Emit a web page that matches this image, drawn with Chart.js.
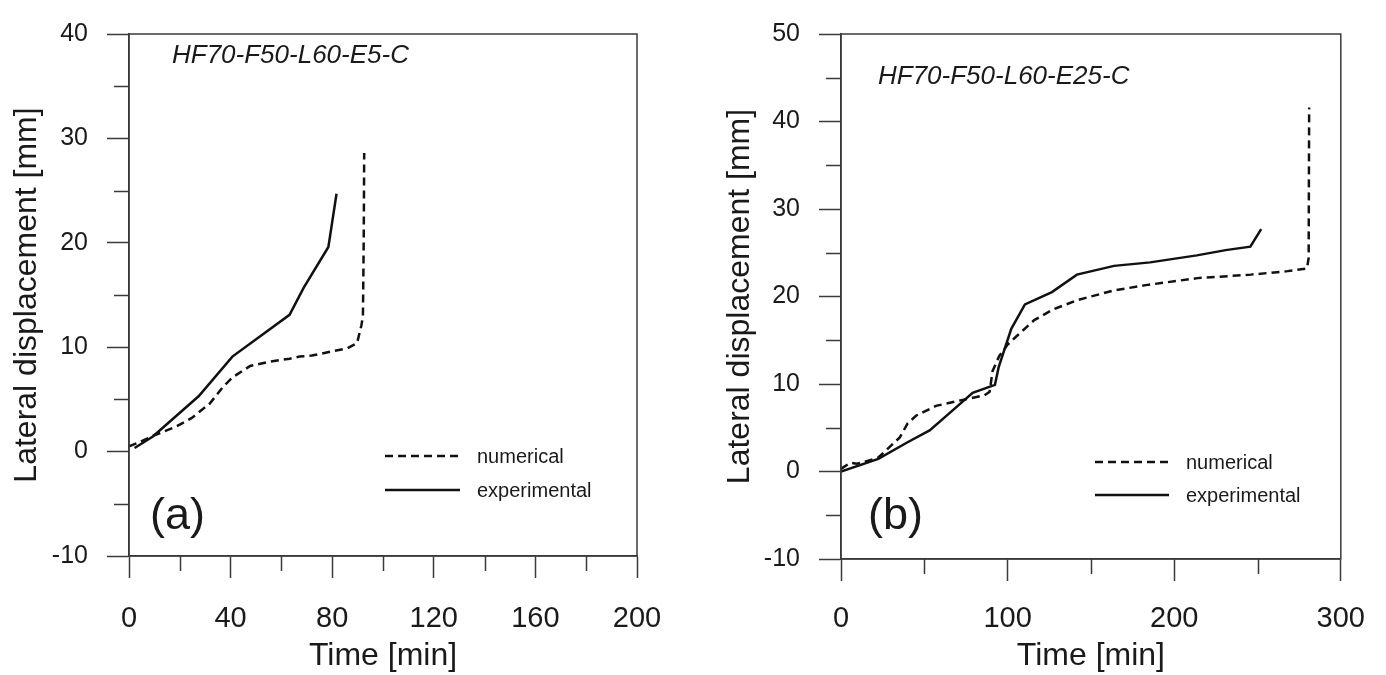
<!DOCTYPE html>
<html lang="en">
<head>
<meta charset="UTF-8">
<title>Lateral displacement vs time</title>
<script src="https://cdn.jsdelivr.net/npm/chart.js"></script>
<style>
  body { margin: 0; background: #fff; }
  .panel { position: absolute; top: 0; width: 693px; height: 675px; }
  #panelA { left: 0; }
  #panelB { left: 693px; }
</style>
</head>
<body>
<div class="panel" id="panelA"><canvas id="chartA" width="693" height="675"></canvas></div>
<div class="panel" id="panelB"><canvas id="chartB" width="693" height="675"></canvas></div>

<script>
// (a) HF70-F50-L60-E5-C
const numTimeA = [0, 4, 9.4, 18.6, 24.6, 31.8, 37, 40.7, 47.7, 55, 63.2, 67.2, 72, 80, 86, 89.8, 91.5, 92.1, 92.4, 92.6];
const numDispA = [0.5, 0.9, 1.5, 2.4, 3.2, 4.6, 6.2, 7.1, 8.2, 8.6, 8.9, 9.1, 9.2, 9.6, 9.9, 10.4, 12.1, 13.0, 20, 28.6];
const expTimeA = [2.2, 9.4, 27.4, 40.7, 63.2, 68.8, 78.5, 81.7];
const expDispA = [0.35, 1.45, 5.3, 9.1, 13.1, 15.7, 19.6, 24.7];

// (b) HF70-F50-L60-E25-C
const numTimeB = [0, 5.5, 9.5, 14, 22.4, 28.6, 35.3, 40, 45.2, 57, 71, 86, 89.2, 91, 95, 100, 105, 116, 127, 142, 164, 183, 214, 246, 268, 279.7, 280.7, 281];
const numDispB = [0.3, 1.0, 0.9, 1.1, 1.6, 2.7, 3.9, 5.5, 6.4, 7.5, 8.1, 8.7, 9.1, 11.5, 13.2, 14.5, 15.4, 17.3, 18.5, 19.6, 20.7, 21.3, 22.1, 22.5, 22.9, 23.2, 24.4, 41.6];
const expTimeB = [0, 22.4, 40.5, 53.2, 66.5, 79, 92.4, 94.6, 102.2, 110.4, 126.6, 141.6, 163.9, 185.5, 213.6, 230.9, 245.7, 252.2];
const expDispB = [0, 1.45, 3.4, 4.7, 6.9, 9.0, 9.9, 11.9, 16.3, 19.1, 20.5, 22.5, 23.5, 23.9, 24.7, 25.3, 25.7, 27.7];

const seriesNames = ['numerical', 'experimental'];

const FONT = '"Liberation Sans", Arial, sans-serif';
const INK = '#1a1a1a';
const AXIS = '#3a3a3a';

function pts(xs, ys) {
  return xs.map((x, i) => ({ x: x, y: ys[i] }));
}

// minor ticks, frame, specimen name, panel tag and legend
const decoPlugin = {
  id: 'deco',
  afterDraw(chart, args, opts) {
    const ctx = chart.ctx;
    const a = chart.chartArea;
    ctx.save();
    ctx.strokeStyle = AXIS;
    ctx.lineWidth = 1.5;
    ctx.strokeRect(a.left, a.top, a.right - a.left, a.bottom - a.top);

    // short minor ticks
    const xs = chart.scales.x, ys = chart.scales.y;
    ctx.beginPath();
    xs.ticks.forEach(t => {
      if (t.label !== '') return;
      const px = Math.round(xs.getPixelForValue(t.value)) + 0.5;
      ctx.moveTo(px, a.bottom);
      ctx.lineTo(px, a.bottom + 15);
    });
    ys.ticks.forEach(t => {
      if (t.label !== '') return;
      const py = Math.round(ys.getPixelForValue(t.value)) + 0.5;
      ctx.moveTo(a.left, py);
      ctx.lineTo(a.left - 15, py);
    });
    ctx.stroke();

    ctx.fillStyle = INK;
    ctx.textBaseline = 'middle';
    ctx.font = 'italic 26px ' + FONT;
    ctx.fillText(opts.name, opts.nameX, opts.nameY);

    ctx.textBaseline = 'alphabetic';
    ctx.font = '45px ' + FONT;
    ctx.fillText(opts.tag, opts.tagX, opts.tagY);

    // legend
    ctx.font = '20px ' + FONT;
    ctx.textBaseline = 'middle';
    chart.data.datasets.forEach((ds, i) => {
      const y = opts.legendY[i];
      ctx.beginPath();
      ctx.strokeStyle = ds.borderColor;
      ctx.lineWidth = ds.borderWidth;
      ctx.setLineDash(ds.borderDash || []);
      ctx.moveTo(opts.legendX0, y);
      ctx.lineTo(opts.legendX1, y);
      ctx.stroke();
      ctx.setLineDash([]);
      ctx.fillText(ds.label, opts.legendTextX, y + 1);
    });
    ctx.restore();
  }
};

function makeChart(id, cfg) {
  return new Chart(document.getElementById(id), {
    type: 'line',
    data: {
      datasets: [
        {
          label: seriesNames[0],
          data: pts(cfg.numT, cfg.numD),
          borderColor: '#111',
          borderWidth: 2.5,
          borderDash: [8, 5],
          pointRadius: 0,
          tension: 0
        },
        {
          label: seriesNames[1],
          data: pts(cfg.expT, cfg.expD),
          borderColor: '#111',
          borderWidth: 2.5,
          pointRadius: 0,
          tension: 0
        }
      ]
    },
    options: {
      responsive: false,
      animation: false,
      layout: { padding: { left: 0, top: cfg.padTop, right: cfg.padRight, bottom: 0 } },
      plugins: {
        legend: { display: false },
        tooltip: { enabled: false },
        deco: cfg.deco
      },
      scales: {
        x: {
          type: 'linear',
          min: cfg.xMin, max: cfg.xMax,
          afterFit(s) { s.height = cfg.xAxisHeight; },
          border: { display: true, color: AXIS, width: 1.5 },
          grid: {
            drawOnChartArea: false, drawTicks: true, tickLength: 22, tickWidth: 1.5,
            tickColor: c => (c.tick && c.tick.value % cfg.xLabelStep === 0) ? AXIS : 'rgba(0,0,0,0)'
          },
          ticks: {
            stepSize: cfg.xStep, autoSkip: false, maxRotation: 0, padding: cfg.xLabelPad,
            color: INK, font: { family: FONT, size: 29 },
            callback: v => (v % cfg.xLabelStep === 0 ? String(v) : '')
          },
          title: {
            display: true, text: 'Time [min]', color: INK,
            font: { family: FONT, size: 32 }, padding: { top: 0, bottom: 0 }
          }
        },
        y: {
          type: 'linear',
          min: cfg.yMin, max: cfg.yMax,
          afterFit(s) { s.width = cfg.yAxisWidth; },
          border: { display: true, color: AXIS, width: 1.5 },
          grid: {
            drawOnChartArea: false, drawTicks: true, tickLength: 22, tickWidth: 1.5,
            tickColor: c => (c.tick && c.tick.value % 10 === 0) ? AXIS : 'rgba(0,0,0,0)'
          },
          ticks: {
            stepSize: 5, autoSkip: false, padding: 19,
            color: INK, font: { family: FONT, size: 25 },
            callback: v => (v % 10 === 0 ? String(v) : '')
          },
          title: {
            display: true, text: 'Lateral displacement [mm]', color: INK,
            font: { family: FONT, size: 32 }, padding: { top: cfg.yTitlePad, bottom: 0 }
          }
        }
      }
    },
    plugins: [decoPlugin]
  });
}

makeChart('chartA', {
  numT: numTimeA, numD: numDispA, expT: expTimeA, expD: expDispA,
  xMin: 0, xMax: 200, xStep: 20, xLabelStep: 40,
  yMin: -10, yMax: 40,
  padTop: 22, padRight: 56, yAxisWidth: 129, xAxisHeight: 119, yTitlePad: 8, xLabelPad: 24,
  deco: {
    name: 'HF70-F50-L60-E5-C', nameX: 172, nameY: 56,
    tag: '(a)', tagX: 150, tagY: 529,
    legendX0: 385, legendX1: 460, legendTextX: 477, legendY: [456, 490]
  }
});

makeChart('chartB', {
  numT: numTimeB, numD: numDispB, expT: expTimeB, expD: expDispB,
  xMin: 0, xMax: 300, xStep: 50, xLabelStep: 100,
  yMin: -10, yMax: 50,
  padTop: 33.5, padRight: 41, yAxisWidth: 148, xAxisHeight: 116, yTitlePad: 28, xLabelPad: 21,
  deco: {
    name: 'HF70-F50-L60-E25-C', nameX: 185, nameY: 77,
    tag: '(b)', tagX: 175, tagY: 529,
    legendX0: 402, legendX1: 476, legendTextX: 493, legendY: [462, 495]
  }
});
</script>
</body>
</html>
